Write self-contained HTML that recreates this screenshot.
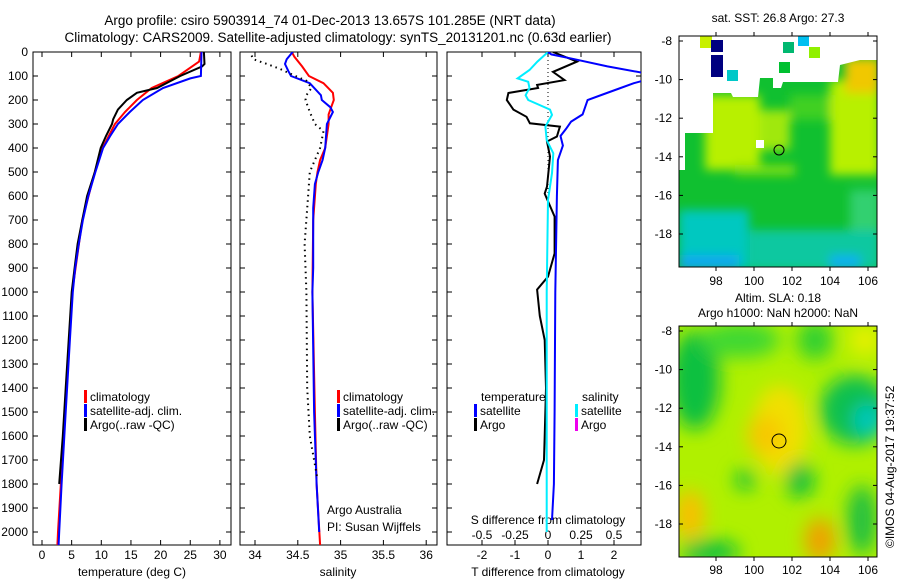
<!DOCTYPE html>
<html><head><meta charset="utf-8">
<style>
body{margin:0;background:#fff;}
svg text{font-family:"Liberation Sans",sans-serif;font-size:12px;fill:#000;}
</style></head><body>
<svg id="c" width="900" height="580" xmlns="http://www.w3.org/2000/svg">
<defs>
<clipPath id="cp1"><rect x="33" y="52" width="198" height="493"/></clipPath>
<clipPath id="cp2"><rect x="240" y="52" width="197" height="493"/></clipPath>
<clipPath id="cp3"><rect x="447" y="52" width="194" height="493"/></clipPath>
<clipPath id="cm1"><rect x="679" y="36" width="198" height="231"/></clipPath>
<clipPath id="cm2"><rect x="679" y="326" width="198" height="231"/></clipPath>
<filter id="bl" x="-50%" y="-50%" width="200%" height="200%"><feGaussianBlur stdDeviation="9"/></filter>
<filter id="bl2" x="-50%" y="-50%" width="200%" height="200%"><feGaussianBlur stdDeviation="5"/></filter>
</defs>
<text x="330" y="25" text-anchor="middle" style="font-size:13.5px">Argo profile: csiro 5903914_74 01-Dec-2013 13.657S 101.285E (NRT data)</text>
<text x="338" y="42" text-anchor="middle" style="font-size:13.5px">Climatology: CARS2009. Satellite-adjusted climatology: synTS_20131201.nc (0.63d earlier)</text>

<!-- top map -->
<g clip-path="url(#cm1)">
<rect x="679" y="36" width="198" height="231" fill="#10c030"/>
<g filter="url(#bl2)">
<rect x="705" y="95" width="55" height="75" fill="#b8f000"/>
<rect x="760" y="110" width="30" height="40" fill="#a0e810"/>
<rect x="790" y="95" width="40" height="25" fill="#40d020"/>
<rect x="830" y="80" width="50" height="95" fill="#b8f000"/>
<rect x="845" y="58" width="35" height="35" fill="#f0c800"/>
<rect x="735" y="165" width="60" height="10" fill="#80e010"/>
<rect x="679" y="210" width="70" height="60" fill="#00c8c0"/>
<rect x="750" y="230" width="130" height="40" fill="#10c8a0"/>
<rect x="850" y="190" width="30" height="40" fill="#30d070"/>
<rect x="679" y="255" width="60" height="15" fill="#10a8f0"/>
<rect x="830" y="255" width="30" height="15" fill="#10b0f0"/>
</g>
<path d="M679 36H877V60H860L840 65L838 82L783 82L781 88L773 88L773 78L760 78L758 97L733 97L731 93L713 93L713 133L685 133L685 170L679 170Z" fill="#fff"/>
<rect x="700" y="36" width="12" height="12" fill="#c8f000"/>
<rect x="711" y="40" width="12" height="12" fill="#000080"/>
<rect x="711" y="55" width="12" height="22" fill="#000080"/>
<rect x="727" y="70" width="11" height="11" fill="#00c8c8"/>
<rect x="779" y="62" width="11" height="11" fill="#00c030"/>
<rect x="783" y="42" width="11" height="11" fill="#00b870"/>
<rect x="798" y="36" width="11" height="10" fill="#00c0f0"/>
<rect x="809" y="47" width="11" height="11" fill="#90f000"/>
<rect x="756" y="140" width="8" height="8" fill="#fff"/>
</g>
<rect x="679" y="36" width="198" height="231" fill="none" stroke="#000"/>
<circle cx="779" cy="150" r="5" fill="none" stroke="#000"/>
<text x="778" y="22" text-anchor="middle">sat. SST: 26.8 Argo: 27.3</text>

<!-- bottom map -->
<g clip-path="url(#cm2)">
<rect x="679" y="326" width="198" height="231" fill="#b0f000"/>
<g filter="url(#bl)">
<ellipse cx="695" cy="380" rx="25" ry="50" fill="#10c040"/>
<ellipse cx="740" cy="340" rx="40" ry="18" fill="#40d830"/>
<ellipse cx="815" cy="340" rx="18" ry="20" fill="#30d030"/>
<ellipse cx="855" cy="410" rx="35" ry="35" fill="#10c050"/>
<ellipse cx="868" cy="420" rx="14" ry="16" fill="#00c8c0"/>
<ellipse cx="780" cy="430" rx="28" ry="45" fill="#f0e000"/>
<ellipse cx="765" cy="435" rx="18" ry="20" fill="#f8c800"/>
<ellipse cx="800" cy="480" rx="14" ry="18" fill="#10c040"/>
<ellipse cx="745" cy="480" rx="10" ry="10" fill="#10c040"/>
<ellipse cx="820" cy="540" rx="15" ry="22" fill="#f0a000"/>
<ellipse cx="690" cy="515" rx="15" ry="25" fill="#f8c000"/>
<ellipse cx="710" cy="552" rx="30" ry="12" fill="#10c040"/>
<ellipse cx="862" cy="520" rx="15" ry="35" fill="#20c040"/>
<ellipse cx="865" cy="340" rx="15" ry="15" fill="#e8f000"/>
</g>
</g>
<rect x="679" y="326" width="198" height="231" fill="none" stroke="#000"/>
<circle cx="779" cy="441" r="7" fill="none" stroke="#000"/>
<text x="778" y="302" text-anchor="middle">Altim. SLA: 0.18</text>
<text x="778" y="317" text-anchor="middle">Argo h1000: NaN h2000: NaN</text>
<text transform="translate(894,548) rotate(-90)">©IMOS 04-Aug-2017 19:37:52</text>

<g id="g"></g>
</svg>
<script>
const depthTicks=[0,100,200,300,400,500,600,700,800,900,1000,1100,1200,1300,1400,1500,1600,1700,1800,1900,2000];
const tempTicks=[0,5,10,15,20,25,30];
const salTicks=[34,34.5,35,35.5,36];
const tdTicks=[-2,-1,0,1,2];
const sdTicks=[-0.5,-0.25,0,0.25,0.5];
const sdTickLabels=["-0.5","-0.25","0","0.25","0.5"];
const latTicks=[-8,-10,-12,-14,-16,-18];
const lonTicks=[98,100,102,104,106];
// temperature profiles [depth, value]
const tempArgo=[[0,27.3],[50,27.4],[60,27],[100,23.3],[150,19.4],[170,16],[200,14.3],[240,12.8],[280,12],[300,11.8],[350,10.8],[400,9.9],[500,8.9],[600,7.6],[700,6.8],[800,6.0],[900,5.5],[1000,5.0],[1200,4.5],[1400,4.0],[1600,3.5],[1800,2.9]];
const tempClim=[[0,26.8],[40,26.5],[100,23],[150,18.5],[200,16],[250,14],[300,12.3],[400,10.2],[500,8.9],[700,6.8],[1000,5.1],[1500,3.9],[2000,2.7],[2054,2.6]];
const tempSat=[[0,26.9],[100,26.8],[110,25],[150,20.4],[200,17],[250,14.8],[300,12.8],[350,11.5],[400,10.3],[500,9.0],[600,7.8],[700,6.9],[800,6.2],[900,5.6],[1000,5.2],[1200,4.7],[1500,4.0],[1800,3.3],[2000,2.9],[2054,2.8]];
// salinity profiles
const salClim=[[0,34.43],[20,34.46],[60,34.55],[100,34.63],[130,34.8],[170,34.91],[200,34.92],[230,34.89],[260,34.86],[300,34.86],[400,34.82],[450,34.76],[500,34.73],[550,34.71],[700,34.68],[1000,34.67],[1500,34.7],[1800,34.72],[2054,34.76]];
const salSat=[[0,34.44],[30,34.37],[50,34.35],[80,34.39],[100,34.42],[130,34.64],[180,34.77],[200,34.78],[230,34.88],[250,34.91],[300,34.84],[400,34.82],[450,34.79],[500,34.74],[550,34.7],[650,34.68],[900,34.68],[1000,34.67],[1500,34.69],[1800,34.72],[2000,34.75]];
const salArgo=[[15,33.96],[30,33.98],[50,34.14],[70,34.29],[90,34.41],[120,34.6],[150,34.66],[180,34.6],[200,34.59],[250,34.64],[300,34.7],[330,34.8],[400,34.76],[450,34.7],[500,34.64],[600,34.62],[800,34.58],[1000,34.6],[1400,34.61],[1600,34.64],[1780,34.73]];
// difference profiles
const tdSat=[[0,0],[10,0.1],[30,0.8],[60,1.8],[90,3.0],[115,3.0],[130,2.6],[150,2.2],[175,1.7],[200,1.2],[240,1.1],[260,1.05],[290,0.7],[320,0.55],[350,0.38],[390,0.45],[450,0.3],[600,0.27],[1000,0.22],[1500,0.2],[1800,0.18],[1950,0.12]];
const tdArgo=[[0,0.15],[40,0.88],[83,0.15],[117,0.5],[137,-0.33],[150,-0.3],[171,-1.2],[200,-1.25],[240,-1.05],[270,-0.65],[297,-0.55],[311,0.36],[352,0.27],[373,-0.03],[436,0.06],[561,-0.03],[590,-0.1],[686,0.2],[839,0.2],[936,0],[990,-0.33],[1100,-0.25],[1200,-0.1],[1400,-0.06],[1600,-0.1],[1700,-0.12],[1800,-0.33]];
const sdSat=[[0,0],[40,-0.08],[75,-0.14],[110,-0.23],[124,-0.15],[150,-0.14],[180,-0.17],[200,-0.15],[240,0.015],[262,0.03],[311,-0.02],[367,-0.01],[422,0.04],[505,0.03],[617,0],[1000,-0.01],[1500,-0.01],[2000,-0.01]];

const yD=d=>52+0.24*d;
const xT=v=>42+5.93*v;
const xS=v=>255+85.6*(v-34);
const xTD=v=>548+33*v;
const xSD=v=>548+132*v;
const latY1=v=>41+(-8-v)*19.3;
const latY2=v=>331+(-8-v)*19.3;
const lonX=v=>716+(v-98)*19;
const NS='http://www.w3.org/2000/svg';
const G=document.getElementById('g');
function mk(tag,attrs,parent){const e=document.createElementNS(NS,tag);for(const k in attrs)e.setAttribute(k,attrs[k]);(parent||G).appendChild(e);return e;}
function line(x1,y1,x2,y2,name){const e=mk('line',{x1,y1,x2,y2,stroke:'#000','stroke-width':1});

return e;}
function txt(x,y,s,anchor,name){const e=mk('text',{x,y,'text-anchor':anchor||'start'});e.textContent=s;

return e;}
function series(data,xf,color,clip,name,dash,w){
 const d=data.map((p,i)=>(i?'L':'M')+xf(p[1]).toFixed(1)+' '+yD(p[0]).toFixed(1)).join('');
 const e=mk('path',{d,fill:'none',stroke:color,'stroke-width':w||2,'clip-path':'url(#'+clip+')'});
 if(dash)e.setAttribute('stroke-dasharray',dash);
 
 return e;}
const panels=[[33,231],[240,437],[447,641]];
panels.forEach((p,i)=>{const r=mk('rect',{x:p[0],y:52,width:p[1]-p[0],height:493,fill:'none',stroke:'#000'});


 depthTicks.forEach(d=>{line(p[0],yD(d),p[0]+5,yD(d),'depth-tick');line(p[1]-5,yD(d),p[1],yD(d),'depth-tick');});});
depthTicks.forEach(d=>txt(28,yD(d)+4,String(d),'end','depth-tick-label'));
tempTicks.forEach(v=>{line(xT(v),545,xT(v),540,'temp-tick');line(xT(v),52,xT(v),57,'temp-tick');txt(xT(v),559,String(v),'middle','temp-tick-label');});
salTicks.forEach(v=>{line(xS(v),545,xS(v),540,'sal-tick');line(xS(v),52,xS(v),57,'sal-tick');txt(xS(v),559,String(v),'middle','sal-tick-label');});
tdTicks.forEach(v=>{line(xTD(v),545,xTD(v),540,'tdiff-tick');line(xTD(v),52,xTD(v),57,'tdiff-tick');txt(xTD(v),559,String(v),'middle','tdiff-tick-label');});
sdTicks.forEach((v,i)=>txt(xSD(v),539,sdTickLabels[i],'middle','sdiff-tick-label'));
txt(132,576,'temperature (deg C)','middle','temp-axis-title');
txt(338,576,'salinity','middle','sal-axis-title');
txt(548,576,'T difference from climatology','middle','tdiff-axis-title');
txt(548,524,'S difference from climatology','middle','sdiff-axis-title');
txt(327,514,'Argo Australia','start','credit-line-1');
txt(327,531,'PI: Susan Wijffels','start','credit-line-2');
series(tempClim,xT,'#f00','cp1','temp-climatology-line');
series(tempArgo,xT,'#000','cp1','temp-argo-line');
series(tempSat,xT,'#00f','cp1','temp-satellite-line');
series(salClim,xS,'#f00','cp2','sal-climatology-line');
series(salSat,xS,'#00f','cp2','sal-satellite-line');
series(salArgo,xS,'#000','cp2','sal-argo-line','1.5 4',2);
const z=mk('line',{x1:548,y1:52,x2:548,y2:yD(620),stroke:'#000','stroke-dasharray':'1 3'});


series(tdArgo,xTD,'#000','cp3','tdiff-argo-line');
series(sdSat,xSD,'#0ef','cp3','sdiff-satellite-line');
series(tdSat,xTD,'#00f','cp3','tdiff-satellite-line');
function leg(x,y,color,label,name){const r=mk('rect',{x:x,y:y-8,width:3,height:13,fill:color});


txt(x+6,y+3,label,'start',name);}
[[84,'panel1'],[337,'panel2']].forEach(([x,n])=>{leg(x,398,'#f00','climatology','legend-climatology');leg(x,412,'#00f','satellite-adj. clim.','legend-satellite');leg(x,426,'#000','Argo(..raw -QC)','legend-argo');});
txt(481,401,'temperature','start','legend-temperature-heading');
leg(474,412,'#00f','satellite','legend-tdiff-satellite');
leg(474,426,'#000','Argo','legend-tdiff-argo');
txt(582,401,'salinity','start','legend-salinity-heading');
leg(575,412,'#0ef','satellite','legend-sdiff-satellite');
leg(575,426,'#e0e','Argo','legend-sdiff-argo');
latTicks.forEach(v=>{line(679,latY1(v),683,latY1(v),'lat-tick');line(873,latY1(v),877,latY1(v),'lat-tick');txt(672,latY1(v)+4,String(v),'end','lat-tick-label');
 line(679,latY2(v),683,latY2(v),'lat-tick');line(873,latY2(v),877,latY2(v),'lat-tick');txt(672,latY2(v)+4,String(v),'end','lat-tick-label');});
lonTicks.forEach(v=>{line(lonX(v),36,lonX(v),32,'lon-tick');line(lonX(v),267,lonX(v),271,'lon-tick');txt(lonX(v),285,String(v),'middle','lon-tick-label');
 line(lonX(v),326,lonX(v),322,'lon-tick');line(lonX(v),557,lonX(v),561,'lon-tick');txt(lonX(v),574,String(v),'middle','lon-tick-label');});
</script>
</body></html>
